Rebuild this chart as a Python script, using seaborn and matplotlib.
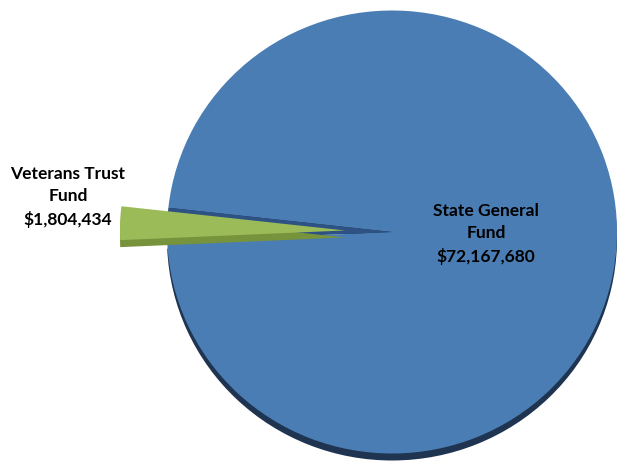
import matplotlib
matplotlib.use("Agg")
import matplotlib.pyplot as plt
import seaborn as sns

sns.set_style("white")
plt.rcParams['font.family'] = ['Lato', 'DejaVu Sans']

categories = ["State General\nFund", "Veterans Trust\nFund"]
values = [72167680, 1804434]
value_labels = ["$72,167,680", "$1,804,434"]

top_colors = ["#4A7DB4", "#9BBB59"]
side_colors = ["#1F3450", "#77933C"]
gap_color = "#2E5283"
clear = (0, 0, 0, 0)

fig = plt.figure(figsize=(6.21, 4.62), dpi=100)
ax = fig.add_axes([0, 0, 1, 1])

CX, CY, RX, RY = 392, 232, 225, 221.5

explode = [0, 0.209]
start = 182.5
depth = 7 / RY
wp = dict(linewidth=0)

# blue side / shadow
ax.pie(values, colors=[side_colors[0], clear], startangle=start,
       center=(0, -depth), frame=True, wedgeprops=wp)
# blue top surface
ax.pie(values, colors=[top_colors[0], clear], startangle=start,
       center=(0, 0), frame=True, wedgeprops=wp)
# inner cut face visible in the slot
ax.pie(values, colors=[clear, gap_color], startangle=start,
       center=(0, 0), frame=True, wedgeprops=wp)
# green side
ax.pie(values, colors=[clear, side_colors[1]], startangle=start, explode=explode,
       center=(0, -depth), frame=True, wedgeprops=wp)
# green top
ax.pie(values, colors=[clear, top_colors[1]], startangle=start, explode=explode,
       center=(0, 0), frame=True, wedgeprops=wp)

ax.set_aspect('auto')
ax.set_xlim(-CX / RX, (621 - CX) / RX)
ax.set_ylim(-(462 - CY) / RY, CY / RY)
ax.axis('off')

def px(x, y):
    return ((x - CX) / RX, (CY - y) / RY)

tx, ty = px(486, 234)
ax.text(tx, ty, categories[0] + "\n" + value_labels[0], ha='center', va='center',
        fontsize=12.5, fontweight='bold', color='black', linespacing=1.45)
tx, ty = px(68, 197)
ax.text(tx, ty, categories[1] + "\n" + value_labels[1], ha='center', va='center',
        fontsize=12.5, fontweight='bold', color='black', linespacing=1.45)

fig.savefig("out.png", dpi=100)
